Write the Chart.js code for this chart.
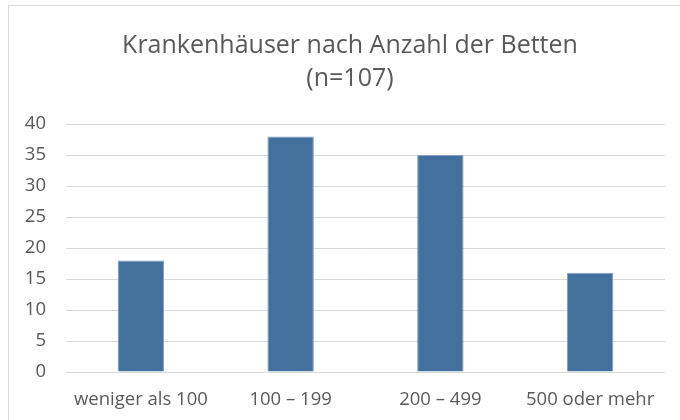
<!DOCTYPE html>
<html>
<head>
<meta charset="utf-8">
<script src="https://cdn.jsdelivr.net/npm/chart.js@4"></script>
<style>
  html, body { margin: 0; padding: 0; background: #fff; overflow: hidden; }
  #frame { position: absolute; left: 8px; top: 5px; width: 720px; height: 460px; border: 1px solid #d9d9d9; }
  #wrap { position: absolute; left: 0; top: 0; width: 680px; height: 420px; }
</style>
</head>
<body>
<div id="frame"></div>
<div id="wrap"><canvas id="chart"></canvas></div>
<script>
// Werte aus dem Diagramm
var categories = ['weniger als 100', '100 – 199', '200 – 499', '500 oder mehr'];
var counts = [18, 38, 35, 16];
var titleLines = ['Krankenhäuser nach Anzahl der Betten', '(n=107)'];
var yTicks = [0, 5, 10, 15, 20, 25, 30, 35, 40];

var textColor = '#595959';

// Titel mittig über dem Rahmen (nicht über der Plotfläche) zeichnen
var titlePlugin = {
    id: 'frameTitle',
    afterDraw: function(chart) {
        var c = chart.ctx;
        c.save();
        c.fillStyle = textColor;
        c.font = '25px "Open Sans"';
        c.textAlign = 'center';
        c.textBaseline = 'middle';
        c.fillText(titleLines[0], 350, 46);
        c.fillText(titleLines[1], 350, 79);
        c.restore();
    }
};

var ctx = document.getElementById('chart').getContext('2d');
var myChart = new Chart(ctx, {
    type: 'bar',
    data: {
        labels: categories,
        datasets: [{
            data: counts,
            backgroundColor: '#43709d',
            borderColor: '#7d9fc2',
            borderWidth: 1,
            categoryPercentage: 1,
            barPercentage: 0.31
        }]
    },
    options: {
        responsive: true,
        maintainAspectRatio: false,
        animation: false,
        layout: { padding: { left: 0, right: 15, top: 124, bottom: 0 } },
        plugins: {
            legend: { display: false },
            tooltip: { enabled: false },
            title: { display: false }
        },
        scales: {
            x: {
                grid: { display: false },
                border: { display: false },
                ticks: {
                    color: textColor,
                    font: { family: 'Open Sans', size: 18.5 },
                    padding: 9,
                    maxRotation: 0
                },
                afterFit: function(scale) { scale.height = 48; }
            },
            y: {
                min: 0,
                max: 40,
                afterBuildTicks: function(scale) {
                    scale.ticks = yTicks.map(function(v) { return { value: v }; });
                },
                grid: { color: '#d9d9d9', lineWidth: 1, drawTicks: false },
                border: { display: false },
                ticks: {
                    color: textColor,
                    font: { family: 'Open Sans', size: 18.5 },
                    padding: 20
                },
                afterFit: function(scale) { scale.width = 66; }
            }
        }
    },
    plugins: [titlePlugin]
});
</script>
</body>
</html>
